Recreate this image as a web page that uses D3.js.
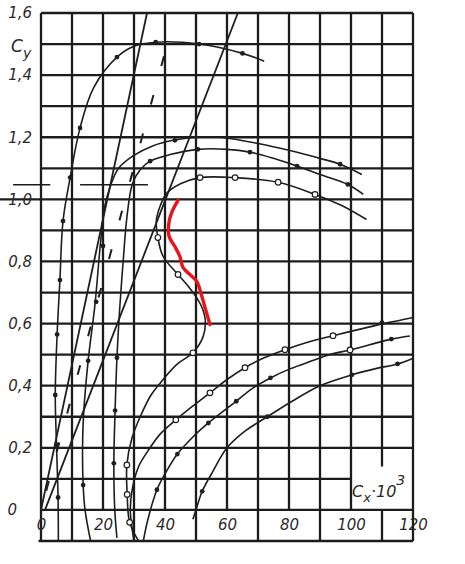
<!DOCTYPE html>
<meta charset="utf-8">
<title>Cy - Cx polars</title>
<script src="https://d3js.org/d3.v7.min.js"></script>
<style>
  body { margin: 0; background: #fff; }
  text { font-family: "DejaVu Sans", sans-serif; font-style: italic; fill: #2a2a2a; }
</style>
<div id="chart"></div>
<script>
  // tick labels
  const xTicks = [0, 20, 40, 60, 80, 100, 120];
  const yTicks = [0, 0.2, 0.4, 0.6, 0.8, 1.0, 1.2, 1.4, 1.6];

  // polars, [Cx*10^3, Cy]
  const polarA = [[5.6, -0.1], [5.5, 0.04], [5.0, 0.21], [4.6, 0.37], [5.2, 0.565], [6.1, 0.74], [7.1, 0.93],
    [9.4, 1.07], [12.6, 1.23], [17, 1.36], [24.5, 1.458], [30, 1.493], [37, 1.506], [51, 1.5], [65, 1.47], [72, 1.445]];
  const polarB = [[16, -0.1], [14.2, 0], [13.6, 0.08], [13.4, 0.2], [13.7, 0.3], [15.2, 0.48], [17.4, 0.66],
    [19.2, 0.86], [20.6, 0.98], [22.3, 1.04], [25, 1.1], [29.7, 1.14], [36, 1.172], [42.6, 1.19], [50, 1.2],
    [57.7, 1.2], [70, 1.18], [80, 1.158], [90, 1.132], [96.5, 1.113], [103.5, 1.08]];
  const polarC = [[24.5, -0.09], [23.8, 0], [23.5, 0.15], [23.9, 0.32], [24.5, 0.49], [25.4, 0.65], [26.5, 0.8],
    [27.8, 0.95], [29.5, 1.05], [32, 1.095], [35.2, 1.123], [42, 1.145], [50.6, 1.161], [60, 1.161],
    [67.4, 1.152], [75, 1.132], [82.6, 1.107], [90, 1.08], [99, 1.048], [104, 1.016]];
  const polarD = [[31.5, -0.1], [28.6, -0.04], [27.8, 0.05], [27.7, 0.145], [29.3, 0.23], [32, 0.3], [35.5, 0.37],
    [39.4, 0.42], [44, 0.47], [49, 0.506], [52.3, 0.558], [53, 0.61], [52, 0.65], [50.6, 0.677], [47.5, 0.72],
    [44.2, 0.758], [39.4, 0.816], [37.7, 0.877], [37.2, 0.93], [38.5, 0.98], [40.6, 1.02], [45, 1.05],
    [51.3, 1.07], [62.6, 1.07], [76.5, 1.055], [88.4, 1.016], [97, 0.98], [105, 0.935]];
  const polarE = [[30, -0.1], [28.8, 0], [29.5, 0.07], [31.5, 0.14], [34.5, 0.19], [38.5, 0.245], [43.5, 0.29],
    [49, 0.335], [54.5, 0.377], [60, 0.42], [65.8, 0.458], [72, 0.49], [78.7, 0.516], [86, 0.54], [94.2, 0.561],
    [105, 0.587], [112, 0.603], [119.7, 0.619]];
  const polarF = [[33, -0.1], [34.5, -0.03], [37.4, 0.065], [40.5, 0.125], [44, 0.18], [49, 0.235], [54, 0.28],
    [63, 0.35], [68, 0.39], [74, 0.425], [80.5, 0.455], [87.4, 0.48], [93, 0.5], [99.7, 0.515], [106, 0.532],
    [113, 0.55], [119, 0.56]];
  const polarG = [[49, -0.03], [50, 0], [52, 0.06], [55.5, 0.125], [60, 0.2], [66, 0.255], [73, 0.3], [81, 0.35],
    [90, 0.4], [100.3, 0.435], [108, 0.455], [115, 0.47], [119.7, 0.487]];

  // straight lift lines
  const line1 = [[0, 0], [34.2, 1.6]];
  const line2 = [[1.3, 0], [63.5, 1.6]];
  const dashLine = [[0, 0], [41, 1.51]];

  // measured points
  const dotsFilled = [[5.5, 0.04], [5.0, 0.21], [4.6, 0.37], [5.2, 0.565], [6.1, 0.74], [7.1, 0.93], [9.4, 1.07],
    [12.6, 1.23], [24.5, 1.458], [37, 1.506], [51, 1.5], [65, 1.47],
    [13.6, 0.08], [15.2, 0.48], [17.8, 0.67], [20, 0.85], [43.2, 1.19], [96.5, 1.113],
    [23.5, 0.15], [23.9, 0.32], [24.5, 0.49], [35.2, 1.123], [50.6, 1.161], [67.4, 1.152], [82.6, 1.107], [99, 1.048],
    [110, 0.603], [37.4, 0.065], [44, 0.18], [54, 0.28], [63, 0.35], [74, 0.425], [113, 0.55],
    [52, 0.06], [73, 0.3], [100.3, 0.435], [115, 0.47]];
  const dotsOpen = [[28.6, -0.04], [27.8, 0.05], [27.7, 0.145], [49, 0.506], [44.2, 0.758], [37.7, 0.877],
    [51.3, 1.07], [62.6, 1.07], [76.5, 1.055], [88.4, 1.016],
    [43.5, 0.29], [54.5, 0.377], [65.8, 0.458], [78.7, 0.516], [94.2, 0.561], [99.7, 0.515]];

  // red hand drawn stroke
  const redMark = [[44.2, 0.997], [42.3, 0.961], [41.3, 0.926], [41.3, 0.881], [43.2, 0.848], [44.8, 0.816],
    [45.8, 0.781], [48.7, 0.752], [50.3, 0.735], [51.9, 0.687], [52.9, 0.652], [54.5, 0.597]];

  const width = 465, height = 564;

  const svg = d3.select("#chart")
    .append("svg")
    .attr("width", width)
    .attr("height", height);

  const x = d3.scaleLinear().domain([0, 120]).range([41, 413]);
  const y = d3.scaleLinear().domain([-0.1, 1.6]).range([541, 13]);

  const fmt = d3.formatLocale({ decimal: ",", thousands: ".", grouping: [3], currency: ["", ""] }).format(".1f");

  // grid
  const grid = svg.append("g")
    .attr("stroke", "#1c1c1c")
    .attr("stroke-width", 2.3);

  d3.range(0, 121, 10).forEach(v => {
    let segs = [[1.6, (v % 20 === 10 || v === 0 || v === 120) ? -0.1 : 0]];
    if (v === 110) segs = [[1.6, 0.14], [0, -0.1]];
    segs.forEach(s => {
      grid.append("line")
        .attr("x1", x(v)).attr("x2", x(v))
        .attr("y1", y(s[0])).attr("y2", y(s[1]));
    });
  });

  d3.range(0, 17).map(i => i / 10).forEach(v => {
    grid.append("line")
      .attr("x1", v === 1 ? 0 : x(0))
      .attr("x2", v === 0.1 ? x(100) : x(120))
      .attr("y1", y(v)).attr("y2", y(v));
  });

  grid.append("line")
    .attr("x1", x(-0.8)).attr("x2", x(120))
    .attr("y1", y(-0.1)).attr("y2", y(-0.1));

  // short strokes left of the plot at Cy~1.05
  [[-9, 3], [12.6, 34.5]].forEach(s => {
    grid.append("line")
      .attr("stroke-width", 1.6)
      .attr("x1", x(s[0])).attr("x2", x(s[1]))
      .attr("y1", y(1.047)).attr("y2", y(1.047));
  });

  // axes labels
  svg.append("g")
    .attr("transform", `translate(0,${y(0)})`)
    .call(d3.axisBottom(x).tickValues(xTicks).tickSize(0).tickPadding(9).tickFormat(d3.format("d")))
    .call(g => g.select(".domain").remove())
    .selectAll("text")
    .style("font-size", "15px")
    .style("font-family", "DejaVu Sans")
    .style("font-style", "italic")
    .attr("fill", "#2a2a2a");

  svg.append("g")
    .attr("transform", `translate(${x(0)},0)`)
    .call(d3.axisLeft(y).tickValues(yTicks).tickSize(0).tickPadding(9).tickFormat(d => d === 0 ? "0" : fmt(d)))
    .call(g => g.select(".domain").remove())
    .selectAll("text")
    .style("font-size", "15px")
    .style("font-family", "DejaVu Sans")
    .style("font-style", "italic")
    .attr("fill", "#2a2a2a")
    .attr("dx", d => d === 0 ? -15 : 0);

  const cy = svg.append("text")
    .attr("x", 11).attr("y", 52)
    .style("font-size", "17px");
  cy.append("tspan").text("C");
  cy.append("tspan").attr("dy", 6).style("font-size", "14px").text("y");

  const cx = svg.append("text")
    .attr("x", 352).attr("y", 497)
    .style("font-size", "16px");
  cx.append("tspan").text("C");
  cx.append("tspan").attr("dy", 5).style("font-size", "13px").text("x");
  cx.append("tspan").attr("dy", -5).text("·10");
  cx.append("tspan").attr("dy", -12).style("font-size", "14px").text("3");

  // curves
  const curve = d3.line()
    .x(d => x(d[0]))
    .y(d => y(d[1]))
    .curve(d3.curveCatmullRom);

  const straight = d3.line()
    .x(d => x(d[0]))
    .y(d => y(d[1]));

  svg.append("g")
    .attr("fill", "none")
    .attr("stroke", "#1e1e1e")
    .attr("stroke-width", 1.6)
    .selectAll("path")
    .data([polarA, polarB, polarC, polarD, polarE, polarF, polarG])
    .join("path")
    .attr("d", curve);

  svg.append("g")
    .attr("fill", "none")
    .attr("stroke", "#1e1e1e")
    .attr("stroke-width", 1.8)
    .selectAll("path")
    .data([line1, line2])
    .join("path")
    .attr("d", straight);

  svg.append("path")
    .datum(dashLine)
    .attr("fill", "none")
    .attr("stroke", "#1e1e1e")
    .attr("stroke-width", 2)
    .attr("stroke-dasharray", "10,30")
    .attr("stroke-dashoffset", -60)
    .attr("d", straight);

  svg.append("g")
    .attr("fill", "#1e1e1e")
    .selectAll("circle")
    .data(dotsFilled)
    .join("circle")
    .attr("cx", d => x(d[0]))
    .attr("cy", d => y(d[1]))
    .attr("r", 2.4);

  svg.append("g")
    .attr("fill", "#fff")
    .attr("stroke", "#1e1e1e")
    .attr("stroke-width", 1.2)
    .selectAll("circle")
    .data(dotsOpen)
    .join("circle")
    .attr("cx", d => x(d[0]))
    .attr("cy", d => y(d[1]))
    .attr("r", 2.8);

  svg.append("path")
    .datum(redMark)
    .attr("fill", "none")
    .attr("stroke", "#e8141c")
    .attr("stroke-width", 3.4)
    .attr("stroke-linecap", "round")
    .attr("d", curve);
</script>
